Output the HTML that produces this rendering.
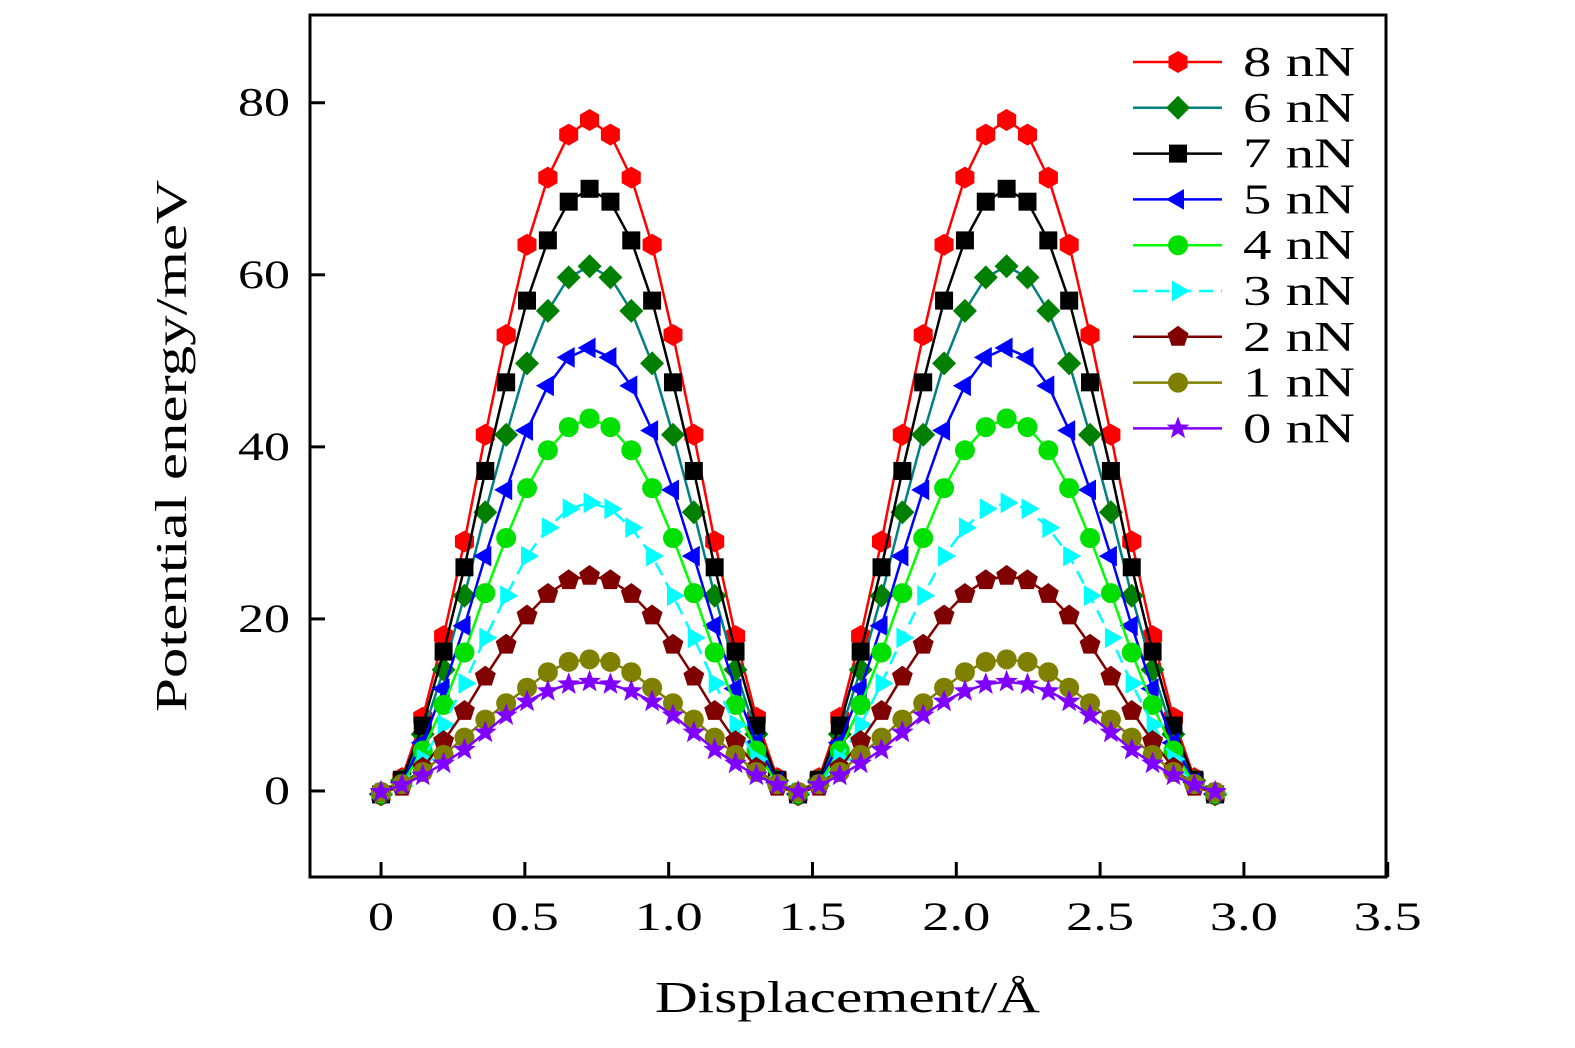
<!DOCTYPE html>
<html><head><meta charset="utf-8"><style>
html,body{margin:0;padding:0;background:#fff;}
svg text{font-family:"Liberation Serif",serif;fill:#000;}
</style></head><body>
<svg id="chart" width="1575" height="1043" viewBox="0 0 1575 1043" xmlns="http://www.w3.org/2000/svg">
<g id="plot"></g>
<g id="axes"></g>
<g id="legend"></g>
</svg>
<script>
const xValues = [0,0.0725,0.145,0.2175,0.29,0.3625,0.435,0.5075,0.58,0.6525,0.725,0.7975,0.87,0.9425,1.015,1.0875,1.16,1.2325,1.305,1.3775,1.45,1.5225,1.595,1.6675,1.74,1.8125,1.885,1.9575,2.03,2.1025,2.175,2.2475,2.32,2.3925,2.465,2.5375,2.61,2.6825,2.755,2.8275,2.9];
const s8 = [-0.5,1.5,8.5,18,29,41.4,53,63.5,71.3,76.3,78,76.3,71.3,63.5,53,41.4,29,18,8.5,1.5,-0.5,1.5,8.5,18,29,41.4,53,63.5,71.3,76.3,78,76.3,71.3,63.5,53,41.4,29,18,8.5,1.5,-0.5];
const s7 = [-0.4,1.3,7.6,16.2,26,37.2,47.5,57,64,68.5,70,68.5,64,57,47.5,37.2,26,16.2,7.6,1.3,-0.4,1.3,7.6,16.2,26,37.2,47.5,57,64,68.5,70,68.5,64,57,47.5,37.2,26,16.2,7.6,1.3,-0.4];
const s6 = [-0.4,1.2,6.6,14.1,22.7,32.4,41.4,49.7,55.8,59.7,61,59.7,55.8,49.7,41.4,32.4,22.7,14.1,6.6,1.2,-0.4,1.2,6.6,14.1,22.7,32.4,41.4,49.7,55.8,59.7,61,59.7,55.8,49.7,41.4,32.4,22.7,14.1,6.6,1.2,-0.4];
const s5 = [-0.3,1,5.6,11.9,19.2,27.3,35,41.9,47.1,50.4,51.5,50.4,47.1,41.9,35,27.3,19.2,11.9,5.6,1,-0.3,1,5.6,11.9,19.2,27.3,35,41.9,47.1,50.4,51.5,50.4,47.1,41.9,35,27.3,19.2,11.9,5.6,1,-0.3];
const s4 = [-0.3,0.8,4.7,10,16.1,23,29.4,35.2,39.6,42.3,43.3,42.3,39.6,35.2,29.4,23,16.1,10,4.7,0.8,-0.3,0.8,4.7,10,16.1,23,29.4,35.2,39.6,42.3,43.3,42.3,39.6,35.2,29.4,23,16.1,10,4.7,0.8,-0.3];
const s3 = [-0.2,0.6,3.7,7.7,12.5,17.8,22.7,27.3,30.6,32.8,33.5,32.8,30.6,27.3,22.7,17.8,12.5,7.7,3.7,0.6,-0.2,0.6,3.7,7.7,12.5,17.8,22.7,27.3,30.6,32.8,33.5,32.8,30.6,27.3,22.7,17.8,12.5,7.7,3.7,0.6,-0.2];
const s2 = [-0.2,0.5,2.7,5.8,9.3,13.3,17,20.4,22.9,24.5,25,24.5,22.9,20.4,17,13.3,9.3,5.8,2.7,0.5,-0.2,0.5,2.7,5.8,9.3,13.3,17,20.4,22.9,24.5,25,24.5,22.9,20.4,17,13.3,9.3,5.8,2.7,0.5,-0.2];
const s1 = [-0.1,0.8,2.2,4.2,6.2,8.3,10.2,12,13.8,15,15.3,15,13.8,12,10.2,8.3,6.2,4.2,2.2,0.8,-0.1,0.8,2.2,4.2,6.2,8.3,10.2,12,13.8,15,15.3,15,13.8,12,10.2,8.3,6.2,4.2,2.2,0.8,-0.1];
const s0 = [-0.1,0.7,1.8,3.2,4.8,6.8,8.8,10.4,11.6,12.4,12.7,12.4,11.6,10.4,8.8,6.8,4.8,3.2,1.8,0.7,-0.1,0.7,1.8,3.2,4.8,6.8,8.8,10.4,11.6,12.4,12.7,12.4,11.6,10.4,8.8,6.8,4.8,3.2,1.8,0.7,-0.1];
const seriesLabels = ["8 nN","6 nN","7 nN","5 nN","4 nN","3 nN","2 nN","1 nN","0 nN"];
const xTicks = [0,0.5,1.0,1.5,2.0,2.5,3.0,3.5];
const xTickLabels = ["0","0.5","1.0","1.5","2.0","2.5","3.0","3.5"];
const yTicks = [0,20,40,60,80];
const yTickLabels = ["0","20","40","60","80"];

const NS="http://www.w3.org/2000/svg";
const L=310,R=1386,T=15,B=877;
const X0=-0.247,X1=3.494,Y0=-10,Y1=90.2;
function sx(v){return L+(v-X0)/(X1-X0)*(R-L);}
function sy(v){return B-(v-Y0)/(Y1-Y0)*(B-T);}
function mk(tag,attrs,parent){const e=document.createElementNS(NS,tag);for(const k in attrs)e.setAttribute(k,attrs[k]);parent.appendChild(e);return e;}
function numLen(s){let w=0;for(const c of s)w+=(c==="."?16:26);return w;}

const styles = [
 {data:s8,line:"#ff0000",fill:"#ff0000",shape:"hex",key:"8nn"},
 {data:s6,line:"#008080",fill:"#008000",shape:"diamond",key:"6nn"},
 {data:s7,line:"#000000",fill:"#000000",shape:"square",key:"7nn"},
 {data:s5,line:"#0000ff",fill:"#0000ff",shape:"ltri",key:"5nn"},
 {data:s4,line:"#00ff00",fill:"#00e000",shape:"circle",key:"4nn"},
 {data:s3,line:"#00ffff",fill:"#00ffff",shape:"rtri",key:"3nn",dash:"14,8"},
 {data:s2,line:"#800000",fill:"#800000",shape:"pent",key:"2nn"},
 {data:s1,line:"#808000",fill:"#808000",shape:"circle",key:"1nn"},
 {data:s0,line:"#8000ff",fill:"#8000ff",shape:"star",key:"0nn"}
];
function poly(cx,cy,r,n,rot){let p=[];for(let i=0;i<n;i++){const a=rot+i*2*Math.PI/n;p.push((cx+r*Math.cos(a)).toFixed(1)+","+(cy+r*Math.sin(a)).toFixed(1));}return p.join(" ");}
function marker(shape,cx,cy,fill,parent){
 let e;
 if(shape==="circle"){e=mk("circle",{cx:cx,cy:cy,r:10,fill:fill},parent);}
 else if(shape==="hex"){e=mk("polygon",{points:poly(cx,cy,11,6,Math.PI/2),fill:fill},parent);}
 else if(shape==="square"){e=mk("rect",{x:cx-9,y:cy-9,width:18,height:18,fill:fill},parent);}
 else if(shape==="diamond"){e=mk("polygon",{points:poly(cx,cy,12,4,0),fill:fill},parent);}
 else if(shape==="ltri"){e=mk("polygon",{points:poly(cx,cy,12,3,Math.PI),fill:fill},parent);}
 else if(shape==="rtri"){e=mk("polygon",{points:poly(cx,cy,12,3,0),fill:fill},parent);}
 else if(shape==="pent"){e=mk("polygon",{points:poly(cx,cy,11,5,-Math.PI/2),fill:fill},parent);}
 else {let p=[];for(let i=0;i<10;i++){const r=i%2?5:12;const a=-Math.PI/2+i*Math.PI/5;p.push((cx+r*Math.cos(a)).toFixed(1)+","+(cy+r*Math.sin(a)).toFixed(1));}e=mk("polygon",{points:p.join(" "),fill:fill},parent);}
 return e;
}
const plot=document.getElementById("plot");
styles.forEach((s,si)=>{
 const g=mk("g",{},plot);
 
 
 const pts=s.data.map((v,i)=>sx(xValues[i]).toFixed(1)+","+sy(v).toFixed(1)).join(" ");
 const pl=mk("polyline",{points:pts,fill:"none",stroke:s.line,"stroke-width":2.5},g);
 if(s.dash)pl.setAttribute("stroke-dasharray",s.dash);
 
 
 s.data.forEach((v,i)=>{
  const m=marker(s.shape,sx(xValues[i]),sy(v),s.fill,g);
  
  
 });
});
const axes=document.getElementById("axes");
const frame=mk("rect",{x:L,y:T,width:R-L,height:B-T,fill:"none",stroke:"#000","stroke-width":3},axes);


xTicks.forEach((v,i)=>{
 const x=sx(v);
 const t=mk("line",{x1:x,x2:x,y1:B,y2:B-15,stroke:"#000","stroke-width":3},axes);
 
 
 const lb=mk("text",{x:x,y:930,"text-anchor":"middle","font-size":40,textLength:numLen(xTickLabels[i]),lengthAdjust:"spacingAndGlyphs"},axes);
 lb.textContent=xTickLabels[i];
 
 
});
yTicks.forEach((v,i)=>{
 const y=sy(v);
 const t=mk("line",{x1:L,x2:L+15,y1:y,y2:y,stroke:"#000","stroke-width":3},axes);
 
 
 const lb=mk("text",{x:290,y:y+13,"text-anchor":"end","font-size":40,textLength:numLen(yTickLabels[i]),lengthAdjust:"spacingAndGlyphs"},axes);
 lb.textContent=yTickLabels[i];
 
 
});
const xt=mk("text",{x:655,y:1012,"font-size":44,textLength:385,lengthAdjust:"spacingAndGlyphs"},axes);
xt.textContent="Displacement/Å";


const yt=mk("text",{x:0,y:0,"font-size":44,textLength:532,lengthAdjust:"spacingAndGlyphs",transform:"translate(186,712) rotate(-90)"},axes);
yt.textContent="Potential energy/meV";


const legend=document.getElementById("legend");
styles.forEach((s,i)=>{
 const y=62+i*45.8;
 const g=mk("g",{},legend);
 
 
 const ln=mk("line",{x1:1133,x2:1222,y1:y,y2:y,stroke:s.line,"stroke-width":2.5},g);
 if(s.dash)ln.setAttribute("stroke-dasharray",s.dash);
 marker(s.shape,1178,y,s.fill,g);
 const tx=mk("text",{x:1243,y:y+14,"font-size":42,textLength:112,lengthAdjust:"spacingAndGlyphs"},g);
 tx.textContent=seriesLabels[i];
});
</script>
</body></html>
